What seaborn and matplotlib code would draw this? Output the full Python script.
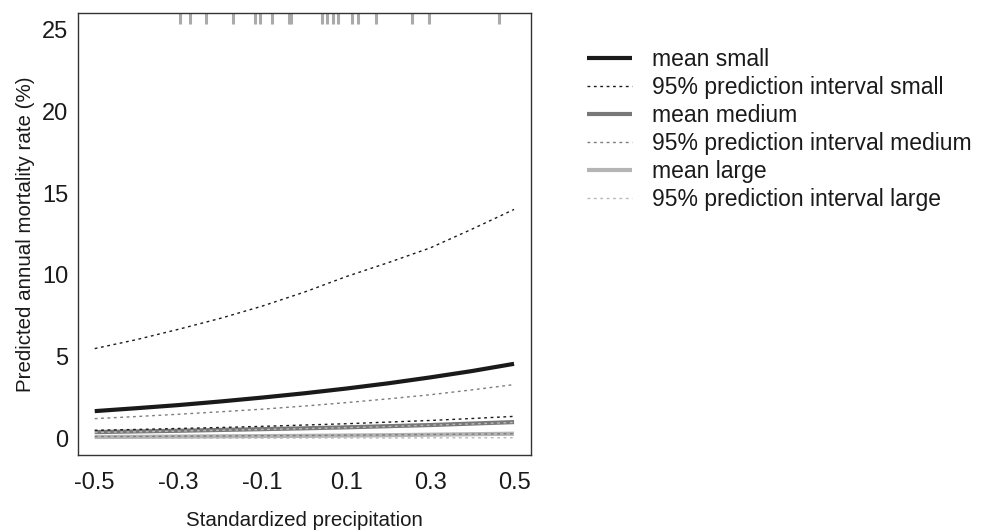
import matplotlib
matplotlib.use("Agg")
import matplotlib.pyplot as plt
import seaborn as sns
import numpy as np
import pandas as pd

# ---- data ----
precip = [-0.5, -0.4, -0.3, -0.2, -0.1, 0.0, 0.1, 0.2, 0.3, 0.4, 0.5]

mean_small = [1.68, 1.86, 2.05, 2.27, 2.51, 2.77, 3.06, 3.38, 3.74, 4.13, 4.57]
pi_small_upper = [5.50, 6.05, 6.68, 7.35, 8.10, 8.95, 9.90, 10.75, 11.65, 12.80, 14.00]
pi_small_lower = [0.51, 0.56, 0.62, 0.68, 0.75, 0.83, 0.91, 1.01, 1.11, 1.23, 1.36]

mean_medium = [0.40, 0.44, 0.48, 0.53, 0.58, 0.63, 0.69, 0.76, 0.83, 0.92, 1.01]
pi_medium_upper = [1.22, 1.35, 1.49, 1.64, 1.80, 1.99, 2.20, 2.43, 2.68, 2.98, 3.30]
pi_medium_lower = [0.12, 0.13, 0.15, 0.16, 0.18, 0.19, 0.21, 0.23, 0.25, 0.28, 0.30]

mean_large = [0.10, 0.11, 0.125, 0.14, 0.155, 0.17, 0.19, 0.21, 0.24, 0.27, 0.30]
pi_large_upper = [0.38, 0.42, 0.46, 0.51, 0.56, 0.61, 0.67, 0.74, 0.82, 0.90, 0.99]
pi_large_lower = [0.02, 0.02, 0.03, 0.03, 0.03, 0.04, 0.04, 0.04, 0.05, 0.05, 0.06]

rug_precip = [-0.297, -0.272, -0.234, -0.170, -0.118, -0.105, -0.078, -0.036,
              -0.032, 0.043, 0.054, 0.069, 0.079, 0.114, 0.127, 0.170, 0.257,
              0.297, 0.463]

x_ticks = [-0.5, -0.3, -0.1, 0.1, 0.3, 0.5]
x_tick_labels = ["-0.5", "-0.3", "-0.1", "0.1", "0.3", "0.5"]
y_ticks = [0, 5, 10, 15, 20, 25]

labels = ["mean small", "95% prediction interval small",
          "mean medium", "95% prediction interval medium",
          "mean large", "95% prediction interval large"]

# ---- style ----
sns.set_theme(style="white")
plt.rcParams["font.family"] = ["Liberation Sans", "DejaVu Sans"]

TICK_FS = 17
LAB_FS = 14.8
LEG_FS = 16.5
TXT = "#1a1a1a"

fig = plt.figure(figsize=(9.83, 5.30), dpi=100)
ax = fig.add_axes([0.0793, 0.1415, 0.4607, 0.834])

c_small, c_med, c_large = "#1a1a1a", "#787878", "#b4b4b4"
c_pi_small, c_pi_med, c_pi_large = "#1a1a1a", "#7c7c7c", "#b8b8b8"
dot = (0, (2.0, 2.6))

# means
for vals, col, lab in [(mean_small, c_small, labels[0]),
                       (mean_medium, c_med, labels[2]),
                       (mean_large, c_large, labels[4])]:
    sns.lineplot(x=precip, y=vals, ax=ax, color=col, lw=3.0, label=lab,
                 solid_capstyle="butt")
# prediction intervals
for up, lo, col, lab in [(pi_small_upper, pi_small_lower, c_pi_small, labels[1]),
                         (pi_medium_upper, pi_medium_lower, c_pi_med, labels[3]),
                         (pi_large_upper, pi_large_lower, c_pi_large, labels[5])]:
    sns.lineplot(x=precip, y=up, ax=ax, color=col, lw=1.0, linestyle=dot, label=lab)
    sns.lineplot(x=precip, y=lo, ax=ax, color=col, lw=1.0, linestyle=dot)

# rug of observed precipitation at the top
ax.vlines(rug_precip, 0.975, 1.0, transform=ax.get_xaxis_transform(),
          color="#aaaaaa", lw=2.2)

ax.set_xlim(-0.54, 0.54)
ax.set_ylim(-1, 26)
ax.set_xticks(x_ticks)
ax.set_xticklabels(x_tick_labels)
ax.set_yticks(y_ticks)

ax.tick_params(axis="x", direction="in", length=5, width=1, color="#333333",
               pad=12.5, labelsize=TICK_FS, labelcolor=TXT)
ax.tick_params(axis="y", direction="in", length=6.5, width=1, color="#333333",
               pad=7, labelsize=TICK_FS, labelcolor=TXT)
for s in ax.spines.values():
    s.set_visible(True)
    s.set_color("#333333")
    s.set_linewidth(1.0)

ax.set_xlabel("Standardized precipitation", fontsize=LAB_FS, labelpad=12, color=TXT)
ax.set_ylabel("Predicted annual mortality rate (%)", fontsize=LAB_FS, labelpad=5,
              color=TXT)

# legend in the reference order
h, l = ax.get_legend_handles_labels()
lookup = dict(zip(l, h))
ax.legend([lookup[k] for k in labels], labels, loc="upper left",
          bbox_to_anchor=(587 / 983, 1 - 48 / 530), bbox_transform=fig.transFigure,
          frameon=False, borderpad=0, borderaxespad=0, handlelength=1.97,
          handletextpad=0.87, labelspacing=0.22, fontsize=LEG_FS)
for t in ax.get_legend().get_texts():
    t.set_color(TXT)

fig.savefig("out.png", dpi=100)
